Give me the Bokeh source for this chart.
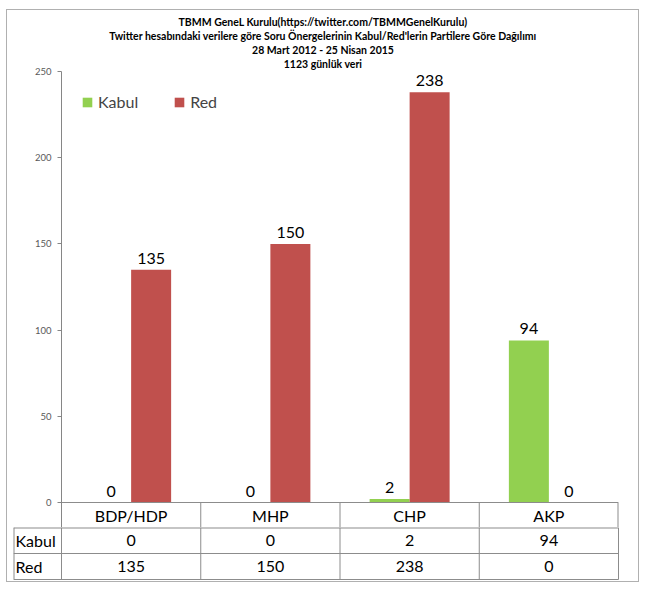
from bokeh.plotting import figure
from bokeh.models import ColumnDataSource, FactorRange, Range1d, FixedTicker, Legend, LegendItem, Span
from bokeh.layouts import column
from bokeh.transform import dodge
from bokeh.core.properties import value
from bokeh.embed import file_html
from bokeh.resources import INLINE

# ---------------- data ----------------
parties = ["BDP/HDP", "MHP", "CHP", "AKP"]
kabul = [0, 0, 2, 94]
red = [135, 150, 238, 0]
series_names = ["Kabul", "Red"]
y_ticks = [0, 50, 100, 150, 200, 250]
title_lines = [
    "TBMM GeneL Kurulu(https://twitter.com/TBMMGenelKurulu)",
    "Twitter hesabındaki verilere göre Soru Önergelerinin Kabul/Red'lerin Partilere Göre Dağılımı",
    "28 Mart 2012 - 25 Nisan 2015",
    "1123 günlük veri",
]

# ---------------- style / layout constants ----------------
GREEN = "#92D050"
RED = "#C0504D"
LINE = "#8c8c8c"
AXIS = "#868686"
FONT = "Lato"

W = 631            # figure width (page x 8..639)
TOP = 11           # page y of the top of the chart
Y0_PX = 503        # page y of value 0
Y250_PX = 72       # page y of value 250
K = (Y0_PX - Y250_PX) / 250.0
FRAME_L = 62
FRAME_R = 619
CAT_W = (FRAME_R - FRAME_L) / len(parties)
HEADER_BOTTOM = 528
ROW_H = 26
BOTTOM = 582
TITLE_Y_PX = [22, 36.5, 50.5, 64]
TITLE_CX_PX = 323.5

y_end = (Y0_PX - TOP) / K
y_start = -(HEADER_BOTTOM - Y0_PX) / K
BAR_W = 40.0 / CAT_W

# ---------------- main chart ----------------
p1 = figure(width=W, height=HEADER_BOTTOM - TOP,
            x_range=FactorRange(factors=parties, range_padding=0),
            y_range=Range1d(y_start, y_end),
            x_axis_location=None, toolbar_location=None, output_backend="svg",
            min_border_left=FRAME_L - 8, min_border_right=8 + W - FRAME_R,
            min_border_top=0, min_border_bottom=0, frame_align=False,
            outline_line_color=None, title=None)
p1.xgrid.visible = False
p1.ygrid.visible = False
p1.background_fill_color = "white"
p1.border_fill_color = "white"

ax = p1.yaxis[0]
ax.ticker = FixedTicker(ticks=y_ticks)
ax.bounds = (y_start, max(y_ticks))
ax.axis_line_color = AXIS
ax.major_tick_line_color = AXIS
ax.major_tick_in = 0
ax.major_tick_out = 4
ax.minor_tick_line_color = None
ax.major_label_text_font = FONT
ax.major_label_text_font_size = "9.5px"
ax.major_label_text_color = "#595959"
ax.major_label_standoff = 6

src = ColumnDataSource(dict(
    party=parties, kabul=kabul, red=red,
    kabul_txt=[str(v) for v in kabul], red_txt=[str(v) for v in red],
))

g = p1.vbar(x=dodge("party", -BAR_W / 2, range=p1.x_range), top="kabul", width=BAR_W,
            source=src, fill_color=GREEN, line_color=None)
r = p1.vbar(x=dodge("party", BAR_W / 2, range=p1.x_range), top="red", width=BAR_W,
            source=src, fill_color=RED, line_color=None)

lbl = dict(text_align="center", text_baseline="bottom", y_offset=-6,
           text_font=value(FONT), text_font_size="16px", text_color="black")
p1.text(x=dodge("party", -BAR_W / 2, range=p1.x_range), y="kabul", text="kabul_txt", source=src, **lbl)
p1.text(x=dodge("party", BAR_W / 2, range=p1.x_range), y="red", text="red_txt", source=src, **lbl)

# header row of the data table (category names)
p1.text(x="party", y=y_start / 2, text="party", source=src, text_align="center",
        text_baseline="middle", text_font=value(FONT), text_font_size="16px", text_color="black")
bounds_x = list(range(1, len(parties) + 1))
p1.segment(x0=bounds_x, x1=bounds_x, y0=[y_start] * len(bounds_x), y1=[0] * len(bounds_x),
           line_color=LINE, line_width=[1] * (len(bounds_x) - 1) + [2])
p1.add_layout(Span(location=0, dimension="width", line_color=LINE, line_width=1))

# title
tcx = (TITLE_CX_PX - FRAME_L) / CAT_W
p1.text(x=[tcx] * len(title_lines), y=[(Y0_PX - yp) / K for yp in TITLE_Y_PX], text=title_lines,
        text_align="center", text_baseline="middle", text_font=value(FONT),
        text_font_size="10.5px", text_font_style="bold", text_color="black")

legend = Legend(items=[LegendItem(label=series_names[0], renderers=[g]),
                       LegendItem(label=series_names[1], renderers=[r])],
                location=(20, HEADER_BOTTOM - 112), orientation="horizontal",
                padding=0, margin=0, spacing=35, label_standoff=5,
                glyph_width=12, glyph_height=12,
                label_text_font=FONT, label_text_font_size="16px",
                border_line_color=None, background_fill_alpha=0)
p1.add_layout(legend)

# ---------------- data table rows ----------------
x2_start = -(FRAME_L - 14) / CAT_W
x2_end = x2_start + (620 - 14) / CAT_W
p2 = figure(width=W, height=BOTTOM - HEADER_BOTTOM,
            x_range=Range1d(x2_start, x2_end), y_range=Range1d(-2.0 / ROW_H, 2),
            x_axis_location=None, y_axis_location=None, toolbar_location=None,
            output_backend="svg", min_border_left=14 - 8, min_border_right=8 + W - 620,
            min_border_top=0, min_border_bottom=0, frame_align=False,
            outline_line_color=None, title=None)
p2.xgrid.visible = False
p2.ygrid.visible = False

# grid lines of the table
vx = [x2_start] + list(range(0, len(parties) + 1))
p2.segment(x0=vx, x1=vx, y0=[0] * len(vx), y1=[2] * len(vx), line_color=LINE,
           line_width=[2] + [1] * len(parties) + [1])
p2.segment(x0=[x2_start] * 3, x1=[len(parties)] * 3, y0=[0, 1, 2], y1=[0, 1, 2],
           line_color=LINE, line_width=[1, 1, 2])

row_y = [1.5, 0.5]
p2.text(x=[x2_start + 2.0 / CAT_W] * 2, y=row_y, text=series_names, text_align="left",
        text_baseline="middle", text_font=value(FONT), text_font_size="16px", text_color="black")
cx = [i + 0.5 for i in range(len(parties))]
tsrc = ColumnDataSource(dict(x=cx + cx, y=[row_y[0]] * len(parties) + [row_y[1]] * len(parties),
                             t=[str(v) for v in kabul] + [str(v) for v in red]))
p2.text(x="x", y="y", text="t", source=tsrc, text_align="center", text_baseline="middle",
        text_font=value(FONT), text_font_size="16px", text_color="black")

layout = column(p1, p2, margin=(10, 0, 0, 7),
                styles={"outline": "1px solid #b0b0b0", "background-color": "white"})

open("out.html", "w").write(file_html(layout, INLINE))
